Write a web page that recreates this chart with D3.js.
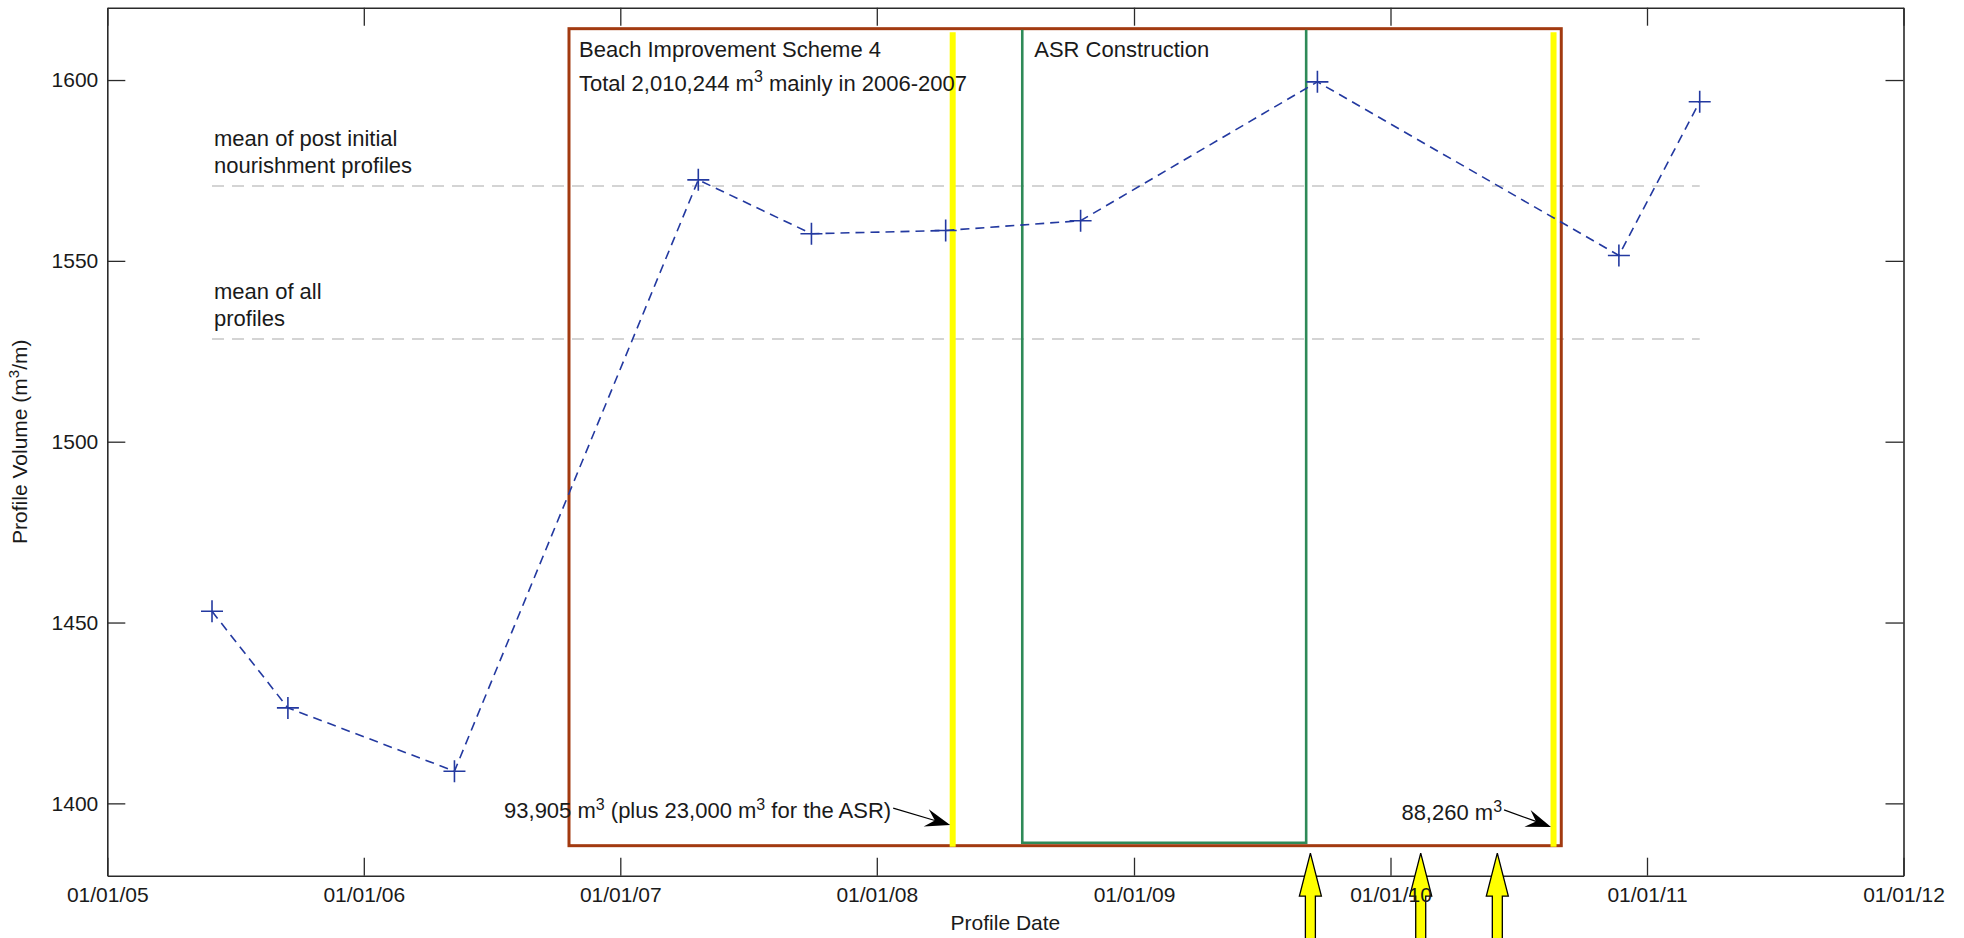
<!DOCTYPE html>
<html>
<head>
<meta charset="utf-8">
<script src="https://cdn.jsdelivr.net/npm/d3@7"></script>
<style>
  html, body { margin: 0; padding: 0; background: #ffffff; }
  svg { display: block; }
  text { font-family: "Liberation Sans", Arial, Helvetica, sans-serif; fill: #1a1a1a; }
</style>
</head>
<body>
<svg id="chart" width="1964" height="938"></svg>
<script>
// ---------------- data ----------------
const profileDates   = ["2005-05-30","2005-09-15","2006-05-10","2007-04-22","2007-09-30",
                        "2008-04-08","2008-10-17","2009-09-19","2010-11-22","2011-03-17"];
const profileVolumes = [1453.1, 1426.4, 1408.9, 1572.4, 1557.5,
                        1558.4, 1561.1, 1599.5, 1551.5, 1594.0];

const xTickDates  = ["2005-01-01","2006-01-01","2007-01-01","2008-01-01",
                     "2009-01-01","2010-01-01","2011-01-01","2012-01-01"];
const yTickValues = [1400, 1450, 1500, 1550, 1600];
const yDomain     = [1380, 1620];

const meanValues = [1570.7, 1528.4];
const meanLabels = [["mean of post initial", "nourishment profiles"], ["mean of all", "profiles"]];

const schemePeriod     = ["2006-10-20", "2010-09-01"];   // brown box
const schemeValueRange = [1388.3, 1614.2];
const asrPeriod        = ["2008-07-26", "2009-09-03"];   // green box
const asrValueRange    = [1389.1, 1613.9];
const nourishDates     = ["2008-04-18", "2010-08-21"];   // yellow lines
const nourishRange     = [1388.0, 1613.2];
const eventArrowDates  = ["2009-09-09", "2010-02-13", "2010-06-02"];

const schemeTitle  = "Beach Improvement Scheme 4";
const asrTitle     = "ASR Construction";
const nourishNotes = [
  [["93,905 m", false], ["3", true], [" (plus 23,000 m", false], ["3", true], [" for the ASR)", false]],
  [["88,260 m", false], ["3", true]]
];
const nourishNoteValues = [1394.0, 1393.5];

// ---------------- layout ----------------
const parse = d3.timeParse("%Y-%m-%d");
const W = 1964, H = 938;
const plot = { left: 107.3, right: 1903.5, top: 7.7, bottom: 875.7 };
const FS = 21;
const AFS = 22;

const svg = d3.select("#chart");
const x = d3.scaleTime()
  .domain([parse(xTickDates[0]), parse(xTickDates[xTickDates.length - 1])])
  .range([plot.left, plot.right]);
const y = d3.scaleLinear().domain(yDomain).range([plot.bottom, plot.top]);

svg.append("rect").attr("x", 0).attr("y", 0).attr("width", W).attr("height", H).attr("fill", "#fff");

// ---------------- axes ----------------
const tickLen = 18;
const fmt = d3.timeFormat("%d/%m/%y");
const xTicks = xTickDates.map(parse);

function styleAxis(g) {
  g.select(".domain").attr("stroke", "#2a2a2a").attr("stroke-width", 1.6);
  g.selectAll(".tick line").attr("stroke", "#2a2a2a").attr("stroke-width", 1.3);
  g.selectAll(".tick text").attr("font-size", FS).attr("fill", "#1a1a1a")
    .attr("font-family", "Liberation Sans, Arial, sans-serif");
}

svg.append("g").attr("transform", `translate(0,${plot.bottom})`)
  .call(d3.axisBottom(x).tickValues(xTicks).tickFormat("").tickSizeInner(-tickLen).tickSizeOuter(0))
  .call(styleAxis);
svg.append("g").attr("transform", `translate(0,${plot.top})`)
  .call(d3.axisTop(x).tickValues(xTicks).tickFormat("").tickSizeInner(-tickLen).tickSizeOuter(0))
  .call(styleAxis);
svg.append("g").attr("transform", `translate(${plot.left},0)`)
  .call(d3.axisLeft(y).tickValues(yTickValues).tickFormat(d3.format("d")).tickSizeInner(-tickLen).tickSizeOuter(0).tickPadding(9))
  .call(styleAxis);
svg.append("g").attr("transform", `translate(${plot.right},0)`)
  .call(d3.axisRight(y).tickValues(yTickValues).tickFormat("").tickSizeInner(-tickLen).tickSizeOuter(0))
  .call(styleAxis);

// axis titles
svg.append("text").attr("x", (plot.left + plot.right) / 2).attr("y", 930)
  .attr("text-anchor", "middle").attr("font-size", FS).text("Profile Date");

const yl = svg.append("text")
  .attr("transform", `translate(27,${(plot.top + plot.bottom) / 2}) rotate(-90)`)
  .attr("text-anchor", "middle").attr("font-size", FS);
yl.append("tspan").text("Profile Volume (m");
yl.append("tspan").attr("dy", -8).attr("font-size", 15).text("3");
yl.append("tspan").attr("dy", 8).text("/m)");

// ---------------- mean lines ----------------
const firstDate = parse(profileDates[0]);
const lastDate  = parse(profileDates[profileDates.length - 1]);
meanValues.forEach((v, i) => {
  svg.append("line")
    .attr("x1", x(firstDate)).attr("x2", x(lastDate))
    .attr("y1", y(v)).attr("y2", y(v))
    .attr("stroke", "#d4d4d4").attr("stroke-width", 2).attr("stroke-dasharray", "12,8");
  meanLabels[i].forEach((t, j) => {
    svg.append("text")
      .attr("x", x(firstDate) + 2)
      .attr("y", y(v) - 40 + j * 27)
      .attr("font-size", AFS).text(t);
  });
});

// ---------------- scheme box (brown) ----------------
const sx0 = x(parse(schemePeriod[0])), sx1 = x(parse(schemePeriod[1]));
const sy0 = y(schemeValueRange[1]), sy1 = y(schemeValueRange[0]);
svg.append("rect").attr("x", sx0).attr("y", sy0).attr("width", sx1 - sx0).attr("height", sy1 - sy0)
  .attr("fill", "none").attr("stroke", "#a23a10").attr("stroke-width", 3);

// ASR box (green)
const ax0 = x(parse(asrPeriod[0])), ax1 = x(parse(asrPeriod[1]));
const ay0 = y(asrValueRange[1]), ay1 = y(asrValueRange[0]);
svg.append("path")
  .attr("d", `M${ax0},${ay0} V${ay1} H${ax1} V${ay0}`)
  .attr("fill", "none").attr("stroke", "#2e8a58").attr("stroke-width", 2.6);

// yellow nourishment lines
nourishDates.forEach(d => {
  svg.append("line").attr("x1", x(parse(d))).attr("x2", x(parse(d)))
    .attr("y1", y(nourishRange[1])).attr("y2", y(nourishRange[0]))
    .attr("stroke", "#ffff00").attr("stroke-width", 6);
});

// titles in boxes
svg.append("text").attr("x", sx0 + 10).attr("y", sy0 + 28).attr("font-size", AFS).text(schemeTitle);
const tt = svg.append("text").attr("x", sx0 + 10).attr("y", sy0 + 62).attr("font-size", AFS);
tt.append("tspan").text("Total 2,010,244 m");
tt.append("tspan").attr("dy", -9).attr("font-size", 16).text("3");
tt.append("tspan").attr("dy", 9).text(" mainly in 2006-2007");
svg.append("text").attr("x", ax0 + 12).attr("y", sy0 + 28).attr("font-size", AFS).text(asrTitle);

// ---------------- data line ----------------
const pts = profileDates.map((d, i) => ({ date: parse(d), v: profileVolumes[i] }));
const blue = "#2339a0";
svg.append("path")
  .datum(pts)
  .attr("d", d3.line().x(d => x(d.date)).y(d => y(d.v)))
  .attr("fill", "none").attr("stroke", blue).attr("stroke-width", 1.6)
  .attr("stroke-dasharray", "9,6");
const ms = 11;
svg.append("g").selectAll("path.m").data(pts).join("path")
  .attr("d", d => `M${x(d.date) - ms},${y(d.v)} H${x(d.date) + ms} M${x(d.date)},${y(d.v) - ms} V${y(d.v) + ms}`)
  .attr("stroke", blue).attr("stroke-width", 1.6).attr("fill", "none");

// ---------------- nourishment annotations with black arrows ----------------
const tails = [[-57, -17], [-47, -17]];
nourishDates.forEach((d, i) => {
  const tipX = x(parse(d)) - 2.5;
  const tipY = y(nourishNoteValues[i]);
  const tx = tipX + tails[i][0], ty = tipY + tails[i][1];
  const ang = Math.atan2(tipY - ty, tipX - tx) * 180 / Math.PI;
  const len = Math.hypot(tipX - tx, tipY - ty);
  const g = svg.append("g").attr("transform", `translate(${tipX},${tipY}) rotate(${ang})`);
  g.append("line").attr("x1", -len).attr("y1", 0).attr("x2", -16).attr("y2", 0)
    .attr("stroke", "#000").attr("stroke-width", 1.2);
  g.append("path").attr("d", "M0,0 L-25,-9 L-16,0 L-25,9 Z").attr("fill", "#000");

  const t = svg.append("text").attr("x", tx - 2).attr("y", ty + 10)
    .attr("text-anchor", "end").attr("font-size", AFS);
  nourishNotes[i].forEach(([s, sup]) => {
    const sp = t.append("tspan").text(s);
    if (sup) sp.attr("dy", -8).attr("font-size", 16);
    else if (t.selectAll("tspan").size() > 1) sp.attr("dy", 8);
  });
});

// ---------------- yellow event arrows below the axis ----------------
const tipY = plot.bottom - 22.5;
eventArrowDates.forEach(d => {
  const cx = x(parse(d));
  const hb = tipY + 43;
  svg.append("path")
    .attr("d", `M${cx},${tipY} L${cx + 11},${hb} L${cx + 5},${hb} L${cx + 5},${H + 10} L${cx - 5},${H + 10} L${cx - 5},${hb} L${cx - 11},${hb} Z`)
    .attr("fill", "#ffff00").attr("stroke", "#000").attr("stroke-width", 1.3);
});

// bottom tick labels drawn on top of the arrows
svg.append("g").attr("transform", `translate(0,${plot.bottom})`)
  .call(d3.axisBottom(x).tickValues(xTicks).tickFormat(fmt).tickSize(0).tickPadding(11))
  .call(g => g.select(".domain").remove())
  .call(styleAxis);
</script>
</body>
</html>
